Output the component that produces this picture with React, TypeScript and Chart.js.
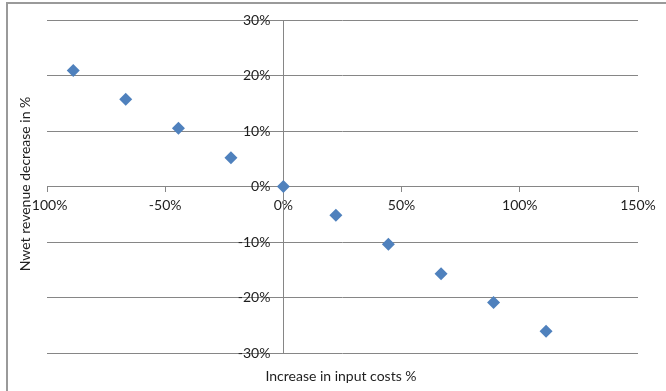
import React, { useEffect, useRef } from 'react';
import { Chart, registerables } from 'chart.js';

Chart.register(...registerables);

// Sensitivity of net revenue to input cost changes
const costIncrease = [-88.9, -66.7, -44.4, -22.2, 0, 22.2, 44.4, 66.7, 88.9, 111.1];
const revenueDecrease = [20.9, 15.7, 10.5, 5.2, 0, -5.2, -10.4, -15.7, -20.9, -26.1];
const xTickValues = [-100, -50, 0, 50, 100, 150];
const yTickValues = [-30, -20, -10, 0, 10, 20, 30];
const xTitle = 'Increase in input costs %';
const yTitle = 'Nwet revenue decrease in %';

const FONT = 'Lato, "Open Sans", sans-serif';
const FONT_SIZE = 14;
const LINE = '#868686';
const FRAME = '#9a9a9a';
const TEXT = '#1e1e1e';
const MARKER = '#4f81bd';

const pct = (v: number | string) => `${v}%`;

// Outer frame, y tick labels beside the vertical axis, and axis titles
const decorations = {
  id: 'decorations',
  beforeDraw(chart: Chart) {
    const { ctx } = chart;
    ctx.save();
    ctx.fillStyle = FRAME;
    ctx.fillRect(6, 2, 2, chart.height - 2);
    ctx.fillRect(6, 2, chart.width - 6, 2);
    ctx.restore();
  },
  afterDraw(chart: Chart) {
    const { ctx } = chart;
    const xs = chart.scales.x;
    const ys = chart.scales.y;
    ctx.save();
    ctx.fillStyle = TEXT;
    ctx.font = `${FONT_SIZE}px ${FONT}`;

    ctx.textAlign = 'right';
    ctx.textBaseline = 'middle';
    const axisX = xs.getPixelForValue(0);
    yTickValues.forEach((v) => {
      ctx.fillText(pct(v), axisX - 13, ys.getPixelForValue(v));
    });

    ctx.textAlign = 'center';
    ctx.fillText(xTitle, 341, 376);

    ctx.translate(25, 184);
    ctx.rotate(-Math.PI / 2);
    ctx.fillText(yTitle, 0, 0);
    ctx.restore();
  },
};

export default function App() {
  const canvasRef = useRef<HTMLCanvasElement | null>(null);

  useEffect(() => {
    if (!canvasRef.current) return;
    const chart = new Chart(canvasRef.current, {
      type: 'scatter',
      data: {
        datasets: [
          {
            label: 'Net revenue',
            data: costIncrease.map((x, i) => ({ x, y: revenueDecrease[i] })),
            pointStyle: 'rectRot',
            pointRadius: 6.5,
            pointHoverRadius: 6.5,
            backgroundColor: MARKER,
            borderColor: MARKER,
            borderWidth: 0,
          },
        ],
      },
      options: {
        responsive: true,
        maintainAspectRatio: false,
        animation: false,
        events: [],
        layout: { padding: { left: 47, right: 28, top: 20, bottom: 38 } },
        plugins: {
          legend: { display: false },
          tooltip: { enabled: false },
          title: { display: false },
        },
        scales: {
          x: {
            type: 'linear',
            position: { y: 0 },
            min: -100,
            max: 150,
            afterBuildTicks: (s: any) => {
              s.ticks = xTickValues.map((value) => ({ value }));
            },
            afterFit: (s: any) => {
              s.height = 0;
            },
            grid: { drawOnChartArea: false, drawTicks: true, tickLength: 5, color: LINE },
            border: { display: true, color: LINE },
            ticks: {
              callback: (v: any) => pct(v),
              font: { family: FONT, size: FONT_SIZE },
              color: TEXT,
              padding: 6,
              maxRotation: 0,
            },
          },
          y: {
            type: 'linear',
            position: { x: 0 },
            min: -30,
            max: 30,
            afterBuildTicks: (s: any) => {
              s.ticks = yTickValues.map((value) => ({ value }));
            },
            afterFit: (s: any) => {
              s.width = 0;
            },
            grid: { drawTicks: false, color: LINE },
            border: { display: true, color: LINE },
            ticks: { display: false },
          },
        },
      },
      plugins: [decorations],
    });
    return () => chart.destroy();
  }, []);

  return (
    <div style={{ position: 'fixed', left: 0, top: 0, width: 666, height: 391, background: '#fff' }}>
      <canvas ref={canvasRef} />
    </div>
  );
}
